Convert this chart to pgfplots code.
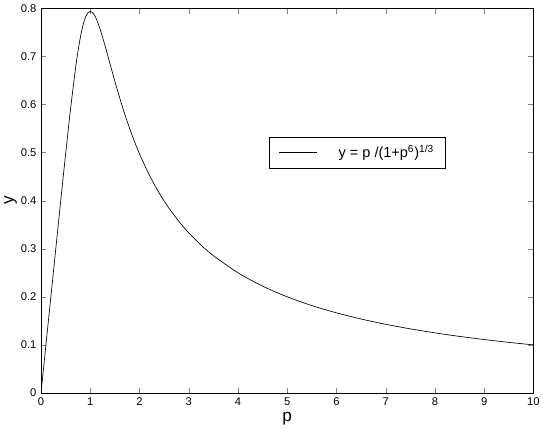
\documentclass[border=0pt]{standalone}
\usepackage{fontspec}
\setmainfont{Liberation Sans}
\usepackage{pgfplots}
\pgfplotsset{compat=1.18}

\begin{document}
\begin{tikzpicture}
\begin{axis}[
    scale only axis,
    width=373.5pt, height=291.75pt,
    xmin=0, xmax=10, ymin=0, ymax=0.8,
    xtick={0,1,...,10},
    ytick={0,0.1,0.2,0.3,0.4,0.5,0.6,0.7,0.8},
    yticklabels={0,0.1,0.2,0.3,0.4,0.5,0.6,0.7,0.8},
    /pgf/number format/assume math mode=true,
    tick label style={font=\fontsize{8.5}{10}\selectfont},
    xlabel={p}, ylabel={y},
    label style={font=\fontsize{13}{15}\selectfont},
    xlabel style={yshift=2pt, text depth=9pt},
    ylabel style={yshift=-4pt},
    tick align=inside,
    major tick length=4pt,
    axis line style={line width=0.6pt},
    legend style={at={(0.643,0.625)}, anchor=center, draw=black,
        font=\fontsize{11}{13}\selectfont, inner xsep=7pt, inner ysep=4pt,
        legend cell align=left},
    legend image code/.code={\draw[#1] (0pt,0pt) -- (29pt,0pt);},
]
\addplot[black, line width=0.5pt, smooth] coordinates {
(0,0) (0.1,0.1) (0.2,0.2) (0.3,0.29993) (0.4,0.39946) (0.5,0.49742)
(0.6,0.59095) (0.7,0.67452) (0.75,0.71015) (0.8,0.74027) (0.85,0.76400)
(0.9,0.78079) (0.95,0.79058) (1.0,0.79370) (1.05,0.79088) (1.1,0.78311)
(1.15,0.77142) (1.2,0.75684) (1.3,0.72245) (1.4,0.68519) (1.5,0.64822)
(1.6,0.61306) (1.7,0.58033) (1.8,0.55021) (1.9,0.52261) (2.0,0.49742)
(2.2,0.45323) (2.4,0.41592) (2.5,0.39949) (2.6,0.38416) (2.8,0.35688)
(3.0,0.33318) (3.25,0.30761) (3.5,0.28566) (4,0.24998) (4.5,0.22222)
(5,0.2) (5.5,0.18182) (6,0.16667) (6.5,0.15385) (7,0.14286) (7.5,0.13333)
(8,0.125) (8.5,0.11765) (9,0.11111) (9.5,0.10526) (10,0.1)
};
\addlegendentry{\hspace{14pt}y = p /(1+p\textsuperscript{6})\textsuperscript{1/3}}
\end{axis}
\end{tikzpicture}
\end{document}
